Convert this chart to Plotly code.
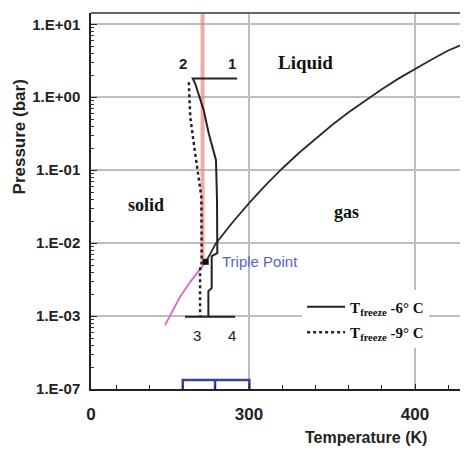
import math
import plotly.graph_objects as go

# ---- data ----
melt_T = [272.0, 272.0]
melt_P = [14.0, 0.0056]

subl_T = [249.4, 253.6, 258.4, 264.5, 269.3, 273.9]
subl_P = [7.53e-4, 1.135e-3, 1.82e-3, 2.92e-3, 4.13e-3, 5.54e-3]

vap_T = [273.9, 280, 290, 300, 310, 320, 330, 340, 350, 360, 370, 380, 390, 400, 410, 420, 432]
vap_P = [0.0055, 0.0099, 0.0192, 0.0354, 0.0623, 0.1055, 0.172, 0.271, 0.417, 0.621,
         0.902, 1.29, 1.80, 2.46, 3.30, 4.37, 5.7]

triple_T = [273.9]
triple_P = [0.00554]

f6_T = [292.8, 266.1, 267.5, 272.7, 275.7, 278.7, 280.1, 280.7, 280.9, 277.5, 277.5, 275.5, 275.5]
f6_P = [1.804, 1.804, 1.555, 0.664, 0.321, 0.188, 0.137, 0.0388, 0.00729, 0.00664,
        0.00242, 0.00220, 0.000978]

f9_T = [263.7, 264.6, 267.3, 269.3, 271.3, 271.5, 270.5, 270.5]
f9_P = [1.605, 0.532, 0.188, 0.091, 0.0426, 0.00549, 0.00427, 0.000978]

base_T = [261.4, 291.6]
base_P = [0.000978, 0.000978]

bracket_T = [260.1, 260.1, 300.2, 300.2]
bracket_P = [1.0e-4, 1.33e-4, 1.33e-4, 1.0e-4]
bracket_mid_T = [279.5, 279.5]
bracket_mid_P = [1.0e-4, 1.33e-4]

y_tickvals = [1e-4, 1e-3, 1e-2, 1e-1, 1e0, 1e1]
y_ticktext = ["1.E-07", "1.E-03", "1.E-02", "1.E-01", "1.E+00", "1.E+01"]
x_tickvals = [204.8, 300, 400]
x_ticktext = ["0", "300", "400"]

point_labels = ["1", "2", "3", "4"]
point_T = [289.5, 260.2, 268.5, 289.6]
point_P = [2.92, 2.92, 5.5e-4, 5.5e-4]

region_labels = ["Liquid", "solid", "gas"]
region_T = [334.3, 237.7, 358.7]
region_P = [3.01, 0.0332, 0.0266]

fig = go.Figure()

fig.add_trace(go.Scatter(x=melt_T, y=melt_P, mode="lines", showlegend=False,
                         line=dict(color="rgba(240,130,130,0.7)", width=4)))
fig.add_trace(go.Scatter(x=subl_T, y=subl_P, mode="lines", showlegend=False,
                         line=dict(color="#d866c8", width=1.8)))
fig.add_trace(go.Scatter(x=vap_T, y=vap_P, mode="lines", showlegend=False,
                         line=dict(color="#2a2a2a", width=1.8)))
fig.add_trace(go.Scatter(x=f6_T, y=f6_P, mode="lines", name="T<sub>freeze</sub> -6° C",
                         legendgroup="a", line=dict(color="#222222", width=2)))
fig.add_trace(go.Scatter(x=f9_T, y=f9_P, mode="lines", name="T<sub>freeze</sub> -9° C",
                         legendgroup="b", line=dict(color="#222222", width=2.5, dash="dot")))
fig.add_trace(go.Scatter(x=base_T, y=base_P, mode="lines", showlegend=False,
                         line=dict(color="#222222", width=2)))
fig.add_trace(go.Scatter(x=triple_T, y=triple_P, mode="markers", showlegend=False,
                         marker=dict(symbol="square", size=6, color="#111111")))
fig.add_trace(go.Scatter(x=bracket_T, y=bracket_P, mode="lines", showlegend=False,
                         cliponaxis=False, line=dict(color="#3a40a8", width=2.5)))
fig.add_trace(go.Scatter(x=bracket_mid_T, y=bracket_mid_P, mode="lines", showlegend=False,
                         cliponaxis=False, line=dict(color="#3a40a8", width=2.5)))

for t, T, P in zip(point_labels, point_T, point_P):
    fig.add_annotation(x=T, y=math.log10(P), text=t, showarrow=False,
                       font=dict(family="Liberation Sans", size=15, color="#222222",
                                 weight="bold" if t in ("1", "2") else "normal"))
for t, T, P in zip(region_labels, region_T, region_P):
    fig.add_annotation(x=T, y=math.log10(P), text=t, showarrow=False,
                       font=dict(family="Liberation Serif", size=19 if t == "Liquid" else 18,
                                 color="#111111", weight="bold"))

fig.add_annotation(x=282.5, y=math.log10(0.00566), text="Triple Point", showarrow=False,
                   xanchor="left", font=dict(family="Liberation Sans", size=15, color="#5a62c8"))

fig.add_annotation(xref="paper", yref="paper", x=-0.19, y=0.67, text="Pressure (bar)",
                   textangle=-90, showarrow=False, xanchor="center", yanchor="middle",
                   font=dict(family="Liberation Sans", size=17, color="#222222", weight="bold"))
fig.add_annotation(xref="paper", yref="paper", x=0.729, y=-0.13, text="Temperature (K)",
                   showarrow=False, xanchor="center", yanchor="middle",
                   font=dict(family="Liberation Sans", size=16, color="#222222", weight="bold"))

fig.add_shape(type="line", xref="paper", yref="paper", x0=0, x1=1, y0=1, y1=1,
              line=dict(color="#666666", width=2))

fig.update_layout(
    width=460, height=443,
    margin=dict(l=83, r=0, t=5, b=62, autoexpand=False),
    paper_bgcolor="white", plot_bgcolor="white",
    showlegend=True,
    legend=dict(x=0.56, y=0.262, xanchor="left", yanchor="top", bgcolor="white",
                traceorder="grouped", tracegroupgap=3, itemwidth=38,
                font=dict(family="Liberation Serif", size=15, color="#111111", weight="bold")),
    xaxis=dict(range=[204.8, 431.9], tickmode="array", tickvals=x_tickvals, ticktext=x_ticktext,
               automargin=False,
               showgrid=True, gridcolor="#bdbdbd", gridwidth=1.5, zeroline=False,
               showline=True, linecolor="#222222", linewidth=2,
               ticks="inside", ticklen=5, tickcolor="#222222", ticklabelstandoff=9,
               tickfont=dict(family="Liberation Sans", size=17, color="#222222", weight="bold"),
               minor=dict(tick0=200, dtick=20, ticks="inside", ticklen=4, tickcolor="#222222",
                          showgrid=False)),
    yaxis=dict(type="log", range=[-4, 1.155], tickmode="array", tickvals=y_tickvals,
               ticktext=y_ticktext, automargin=False, showgrid=True, gridcolor="#bdbdbd",
               gridwidth=1.5, zeroline=False, showline=True, linecolor="#222222", linewidth=1.5,
               ticks="inside", ticklen=6, tickcolor="#222222", ticklabelstandoff=6,
               tickfont=dict(family="Liberation Sans", size=15, color="#222222", weight="bold"),
               minor=dict(dtick="D1", ticks="inside", ticklen=3, tickcolor="#333333",
                          showgrid=False)),
)

fig.write_html("out.html")
